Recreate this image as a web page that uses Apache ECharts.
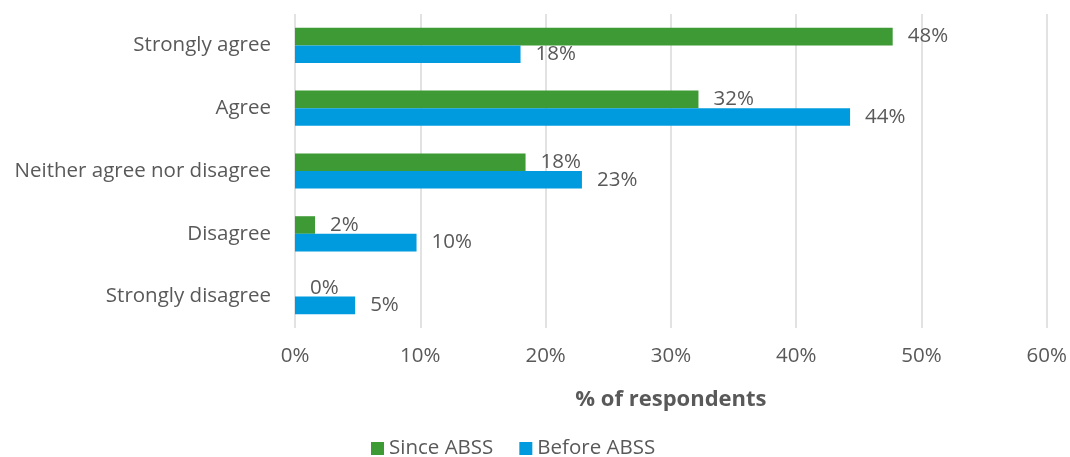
<!DOCTYPE html>
<html><head><meta charset="utf-8">
<script src="https://cdn.jsdelivr.net/npm/echarts@6/dist/echarts.min.js"></script>
<style>html,body{margin:0;padding:0;background:#fff}#c{width:1070px;height:457px}</style>
</head><body><div id="c"></div>
<script>
const categories = ['Strongly agree','Agree','Neither agree nor disagree','Disagree','Strongly disagree'];
const sinceABSS = [47.7, 32.2, 18.4, 1.6, 0];
const beforeABSS = [18.0, 44.3, 22.9, 9.7, 4.8];
const xTicks = [0,10,20,30,40,50,60];
const seriesNames = ['Since ABSS','Before ABSS'];

const FONT = '"Open Sans", Lato, sans-serif';
const TXT = '#595959';
const FS = 20.5;
const chart = echarts.init(document.getElementById('c'), null, {renderer:'canvas'});
const lbl = {show:true, position:'right', distance:15, color:TXT, fontSize:FS, fontFamily:FONT,
  formatter: p => Math.round(p.value) + '%'};
chart.setOption({
  animation:false,
  textStyle:{fontFamily:FONT},
  grid:{left:295, right:23, top:14, bottom:129, containLabel:false},
  legend:{data:seriesNames, left:366, top:433, itemWidth:13, itemHeight:13, itemGap:26, icon:'rect',
    textStyle:{color:TXT, fontSize:FS, fontFamily:FONT}},
  xAxis:{type:'value', min:xTicks[0], max:xTicks[xTicks.length-1], interval:10,
    name:'% of respondents', nameLocation:'middle', nameGap:61,
    nameTextStyle:{color:TXT, fontSize:22, fontWeight:'bold', fontFamily:FONT},
    axisLabel:{color:TXT, fontSize:FS, fontFamily:FONT, margin:18, formatter: v => v + '%'},
    axisLine:{show:false}, axisTick:{show:false},
    splitLine:{show:true, lineStyle:{color:'#D9D9D9', width:1.5}}},
  yAxis:{type:'category', data:categories, inverse:true,
    axisLabel:{color:TXT, fontSize:FS, fontFamily:FONT, margin:24},
    axisLine:{show:false}, axisTick:{show:false}, splitLine:{show:false}},
  series:[
    {name:seriesNames[0], type:'bar', data:sinceABSS, itemStyle:{color:'#3E9A35'}, barGap:'0%', barCategoryGap:'44%', label:lbl},
    {name:seriesNames[1], type:'bar', data:beforeABSS, itemStyle:{color:'#009BDE'}, barGap:'0%', barCategoryGap:'44%', label:lbl}
  ]
});
</script></body></html>
